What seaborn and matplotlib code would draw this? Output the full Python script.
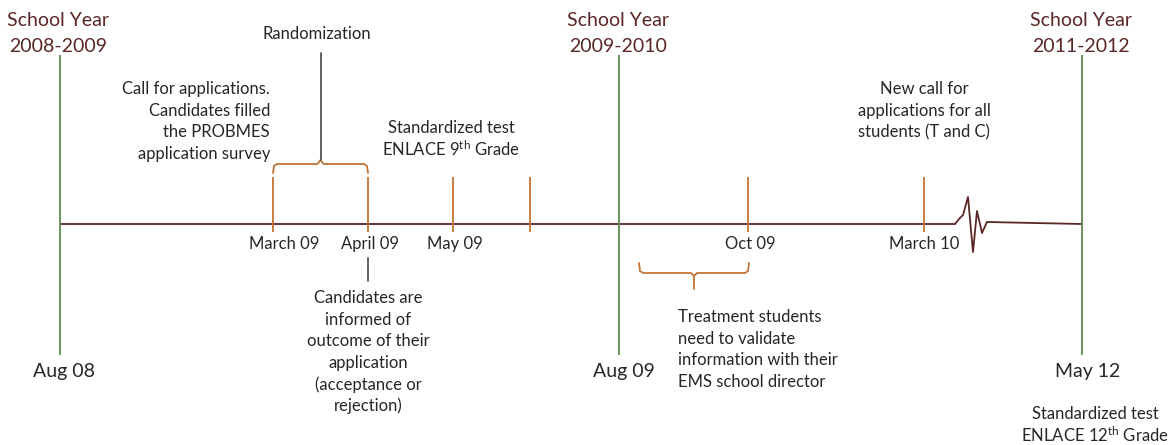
import matplotlib
matplotlib.use("Agg")
import matplotlib.pyplot as plt
import seaborn as sns
import pandas as pd
import numpy as np

# ---------------- data ----------------
# timeline (pixel-like coordinate system: x 0..1172, y 0..445 downward)
axis_y = 224
axis_start_x = 60
axis_end_x = 1082
break_x = [955, 959, 963, 968, 973, 977, 982, 987]
break_y = [224, 219, 215, 197, 252, 211, 233, 222]

# school-year boundaries (green)
year_x = [60, 619, 1082]
year_title_top = ["School Year", "School Year", "School Year"]
year_title_bottom = ["2008-2009", "2009-2010", "2011-2012"]
year_title_x = [58, 618, 1081]
year_dates = ["Aug 08", "Aug 09", "May 12"]
year_date_x = [64, 624, 1088]

# event ticks (orange)
event_x = [273, 368, 453, 530, 748, 924]
event_labels = ["March 09", "April 09", "May 09", "", "Oct 09", "March 10"]
event_label_x = [284, 370, 455, 530, 750, 924]

# annotation texts: (lines, x, y_first, ha)
notes = [
    (["Randomization"], 317, 34, "center"),
    (["Call for applications.", "Candidates filled", "the PROBMES", "application survey"], 270, 89, "right"),
    (["Standardized test", r"ENLACE 9$^{\mathrm{th}}$ Grade"], 451, 128, "center"),
    (["New call for", "applications for all", "students (T and C)"], 924, 89, "center"),
    (["Candidates are", "informed of", "outcome of their", "application", "(acceptance or", "rejection)"], 368, 298, "center"),
    (["Treatment students", "need to validate", "information with their", "EMS school director"], 678, 317, "left"),
    (["Standardized test", r"ENLACE 12$^{\mathrm{th}}$ Grade"], 1095, 414, "center"),
]
line_step = 21.6

# ---------------- style ----------------
sns.set_theme(style="white")
plt.rcParams["font.family"] = ["Lato", "DejaVu Sans"]
plt.rcParams["mathtext.fontset"] = "custom"
plt.rcParams["mathtext.rm"] = "Lato"
plt.rcParams["mathtext.it"] = "Lato:italic"
plt.rcParams["mathtext.bf"] = "Lato:bold"

MAROON = "#5a2626"
GREEN = "#5e8a4c"
ORANGE = "#c27436"
GRAY = "#555555"
TXT = "#262626"

fig = plt.figure(figsize=(11.72, 4.45), dpi=100)
ax = fig.add_axes([0, 0, 1, 1])
ax.set_xlim(0, 1172)
ax.set_ylim(445, 0)
ax.axis("off")

# main timeline with break
seg1 = pd.DataFrame({"x": [axis_start_x, break_x[0]], "y": [axis_y, axis_y]})
seg2 = pd.DataFrame({"x": break_x, "y": break_y})
seg3 = pd.DataFrame({"x": [break_x[-1], axis_end_x], "y": [break_y[-1], axis_y]})
for seg in (seg1, seg2, seg3):
    sns.lineplot(data=seg, x="x", y="y", ax=ax, color=MAROON, lw=1.3, sort=False,
                 estimator=None)
ax.set_xlim(0, 1172)
ax.set_ylim(445, 0)
ax.axis("off")

# school-year lines
ax.vlines(year_x, 55, 355, color=GREEN, lw=1.3)
for t1, t2, x in zip(year_title_top, year_title_bottom, year_title_x):
    ax.text(x, 20, t1, ha="center", va="center", fontsize=14, color=MAROON)
    ax.text(x, 46, t2, ha="center", va="center", fontsize=14, color=MAROON)
for t, x in zip(year_dates, year_date_x):
    ax.text(x, 371, t, ha="center", va="center", fontsize=14, color=TXT)

# event ticks
ax.vlines(event_x, 177, 232, color=ORANGE, lw=1.3)
for t, x in zip(event_labels, event_label_x):
    if t:
        ax.text(x, 244, t, ha="center", va="center", fontsize=12, color=TXT)

# brace above March-April (opening downward)
bx0, bx1 = event_x[0], event_x[1]
bmid = (bx0 + bx1) / 2
ax.plot([bx0, bx0 + 1, bx0 + 4, bmid - 3, bmid, bmid + 3, bx1 - 4, bx1 - 1, bx1],
        [173, 166, 164, 164, 160, 164, 164, 166, 173], color=ORANGE, lw=1.3)
ax.plot([bmid, bmid], [53, 160], color=GRAY, lw=1.3)

# pointer below April
ax.plot([event_x[1], event_x[1]], [258, 281], color=GRAY, lw=1.3)

# brace below Aug09-Oct09 (opening upward)
cx0, cx1 = 639, event_x[4] + 1
cmid = (cx0 + cx1) / 2
ax.plot([cx0, cx0 + 1, cx0 + 4, cmid - 3, cmid, cmid + 3, cx1 - 4, cx1 - 1, cx1],
        [263, 271, 273, 273, 276, 273, 273, 271, 263], color=ORANGE, lw=1.3)
ax.plot([cmid, cmid], [276, 289], color=ORANGE, lw=1.3)

# annotation texts
for lines, x, y0, ha in notes:
    for i, ln in enumerate(lines):
        ax.text(x, y0 + i * line_step, ln, ha=ha, va="center", fontsize=12, color=TXT)

fig.savefig("out.png", dpi=100)
